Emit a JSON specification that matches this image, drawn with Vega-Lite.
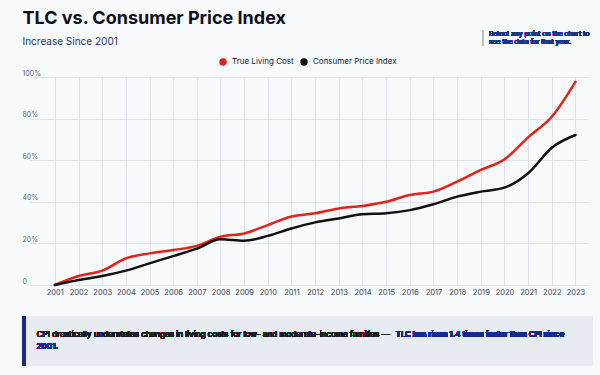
{
  "$schema": "https://vega.github.io/schema/vega-lite/v6.json",
  "width": 558,
  "height": 208,
  "autosize": {"type": "none"},
  "padding": {"left": 30, "top": 77, "right": 12, "bottom": 90},
  "background": "#f8f9fa",
  "title": {
    "text": "TLC vs. Consumer Price Index",
    "subtitle": "Increase Since 2001",
    "anchor": "start",
    "frame": "group",
    "dx": -7.5,
    "offset": -17,
    "font": "Inter",
    "fontSize": 18,
    "fontWeight": 700,
    "color": "#0d0f1a",
    "subtitleFont": "Inter",
    "subtitleFontSize": 10,
    "subtitleColor": "#1d3384",
    "subtitlePadding": 9
  },
  "config": {
    "view": {"stroke": null},
    "font": "Inter"
  },
  "data": {
    "values": [
      {"year": 2001, "series": "True Living Cost", "value": 0},
      {"year": 2002, "series": "True Living Cost", "value": 4.3},
      {"year": 2003, "series": "True Living Cost", "value": 6.9},
      {"year": 2004, "series": "True Living Cost", "value": 12.8},
      {"year": 2005, "series": "True Living Cost", "value": 15.2},
      {"year": 2006, "series": "True Living Cost", "value": 16.8},
      {"year": 2007, "series": "True Living Cost", "value": 18.8},
      {"year": 2008, "series": "True Living Cost", "value": 23.2},
      {"year": 2009, "series": "True Living Cost", "value": 24.8},
      {"year": 2010, "series": "True Living Cost", "value": 28.8},
      {"year": 2011, "series": "True Living Cost", "value": 32.9},
      {"year": 2012, "series": "True Living Cost", "value": 34.5},
      {"year": 2013, "series": "True Living Cost", "value": 36.8},
      {"year": 2014, "series": "True Living Cost", "value": 38.0},
      {"year": 2015, "series": "True Living Cost", "value": 40.0},
      {"year": 2016, "series": "True Living Cost", "value": 43.3},
      {"year": 2017, "series": "True Living Cost", "value": 44.9},
      {"year": 2018, "series": "True Living Cost", "value": 49.7},
      {"year": 2019, "series": "True Living Cost", "value": 55.3},
      {"year": 2020, "series": "True Living Cost", "value": 60.4},
      {"year": 2021, "series": "True Living Cost", "value": 71.0},
      {"year": 2022, "series": "True Living Cost", "value": 80.9},
      {"year": 2023, "series": "True Living Cost", "value": 97.7},
      {"year": 2001, "series": "Consumer Price Index", "value": 0},
      {"year": 2002, "series": "Consumer Price Index", "value": 2.4},
      {"year": 2003, "series": "Consumer Price Index", "value": 4.3},
      {"year": 2004, "series": "Consumer Price Index", "value": 6.9},
      {"year": 2005, "series": "Consumer Price Index", "value": 10.4},
      {"year": 2006, "series": "Consumer Price Index", "value": 13.9},
      {"year": 2007, "series": "Consumer Price Index", "value": 17.5},
      {"year": 2008, "series": "Consumer Price Index", "value": 22.0},
      {"year": 2009, "series": "Consumer Price Index", "value": 21.3},
      {"year": 2010, "series": "Consumer Price Index", "value": 23.6},
      {"year": 2011, "series": "Consumer Price Index", "value": 27.2},
      {"year": 2012, "series": "Consumer Price Index", "value": 30.1},
      {"year": 2013, "series": "Consumer Price Index", "value": 32.0},
      {"year": 2014, "series": "Consumer Price Index", "value": 34.0},
      {"year": 2015, "series": "Consumer Price Index", "value": 34.5},
      {"year": 2016, "series": "Consumer Price Index", "value": 36.0},
      {"year": 2017, "series": "Consumer Price Index", "value": 38.8},
      {"year": 2018, "series": "Consumer Price Index", "value": 42.5},
      {"year": 2019, "series": "Consumer Price Index", "value": 44.9},
      {"year": 2020, "series": "Consumer Price Index", "value": 46.8},
      {"year": 2021, "series": "Consumer Price Index", "value": 53.7},
      {"year": 2022, "series": "Consumer Price Index", "value": 66.0},
      {"year": 2023, "series": "Consumer Price Index", "value": 72.1}
    ]
  },
  "layer": [
    {
      "mark": {"type": "line", "interpolate": "monotone", "strokeWidth": 2.5, "strokeCap": "round"},
      "encoding": {
        "x": {
          "field": "year",
          "type": "quantitative",
          "scale": {"domain": [1999.95, 2023.53], "nice": false, "zero": false},
          "axis": {
            "title": null,
            "values": [2001, 2002, 2003, 2004, 2005, 2006, 2007, 2008, 2009, 2010, 2011, 2012, 2013, 2014, 2015, 2016, 2017, 2018, 2019, 2020, 2021, 2022, 2023],
            "format": "d",
            "domain": false,
            "ticks": false,
            "grid": true,
            "gridColor": "#d9dde4",
            "gridWidth": 0.8,
            "labelFontSize": 7.5,
            "labelColor": "#3b4256",
            "labelPadding": 3,
            "labelFlush": false
          }
        },
        "y": {
          "field": "value",
          "type": "quantitative",
          "scale": {"domain": [0, 100], "nice": false},
          "axis": {
            "title": null,
            "values": [0, 20, 40, 60, 80, 100],
            "labelExpr": "datum.value == 0 ? '0' : datum.value + '%'",
            "domain": false,
            "ticks": false,
            "tickSize": 0,
            "grid": true,
            "gridColor": "#d9dde4",
            "gridWidth": 0.8,
            "labelAlign": "left",
            "labelBaseline": "bottom",
            "labelPadding": 8,
            "labelOffset": -1,
            "labelFontSize": 7,
            "labelColor": "#5a6275"
          }
        },
        "color": {
          "field": "series",
          "type": "nominal",
          "scale": {"domain": ["True Living Cost", "Consumer Price Index"], "range": ["#e2231a", "#111111"]},
          "legend": {
            "title": null,
            "orient": "none",
            "legendX": 189,
            "legendY": -19,
            "direction": "horizontal",
            "symbolType": "circle",
            "symbolSize": 55,
            "symbolStrokeWidth": 0,
            "labelFontSize": 8,
            "labelColor": "#0f1a3d",
            "labelOffset": 5,
            "columnPadding": 6,
            "encode": {"symbols": {"update": {"fill": {"scale": "color", "field": "value"}}}}
          }
        }
      }
    },
    {
      "mark": {"type": "rect", "fill": "#e8ecf2", "clip": false},
      "encoding": {"x": {"value": -7.3}, "x2": {"value": 562.7}, "y": {"value": 239}, "y2": {"value": 288.7}}
    },
    {
      "mark": {"type": "rect", "fill": "#1b2a8c", "clip": false},
      "encoding": {"x": {"value": -7.3}, "x2": {"value": -4.8}, "y": {"value": 239}, "y2": {"value": 288.7}}
    },
    {
      "mark": {"type": "text", "align": "left", "baseline": "middle", "fontSize": 8.1, "color": "#1a1d26", "text": "CPI drastically understates changes in living costs for low- and moderate-income families \u2014"},
      "encoding": {"x": {"value": 6.7}, "y": {"value": 258}}
    },
    {
      "mark": {"type": "text", "align": "left", "baseline": "middle", "fontSize": 7.8, "fontWeight": 700, "color": "#132a8f", "text": "TLC has risen 1.4 times faster than CPI since"},
      "encoding": {"x": {"value": 365.7}, "y": {"value": 258}}
    },
    {
      "mark": {"type": "text", "align": "left", "baseline": "middle", "fontSize": 7.8, "fontWeight": 700, "color": "#132a8f", "text": "2001."},
      "encoding": {"x": {"value": 6.7}, "y": {"value": 269.7}}
    },
    {
      "mark": {"type": "rule", "stroke": "#b9c0cc", "strokeWidth": 1, "clip": false},
      "encoding": {"x": {"value": 452.7}, "y": {"value": -47}, "y2": {"value": -31}}
    },
    {
      "mark": {"type": "text", "align": "left", "baseline": "middle", "fontSize": 6.8, "color": "#1d3384", "text": "Select any point on the chart to"},
      "encoding": {"x": {"value": 459}, "y": {"value": -42.7}}
    },
    {
      "mark": {"type": "text", "align": "left", "baseline": "middle", "fontSize": 6.8, "color": "#1d3384", "text": "see the data for that year."},
      "encoding": {"x": {"value": 459}, "y": {"value": -34.7}}
    }
  ]
}
